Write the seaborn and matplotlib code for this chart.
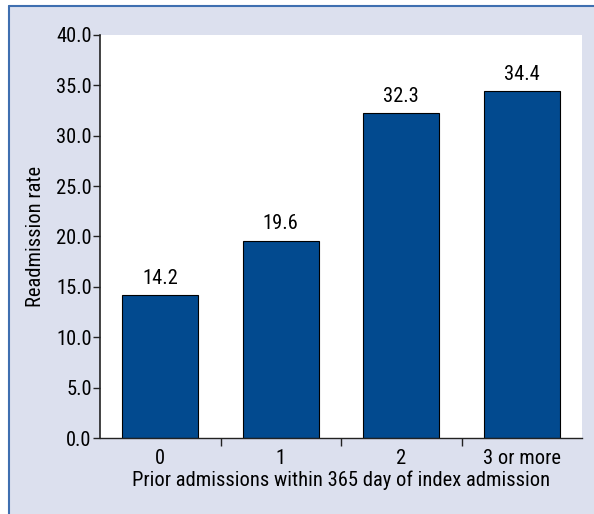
import matplotlib
matplotlib.use("Agg")
import matplotlib.pyplot as plt
from matplotlib.patches import Rectangle
from matplotlib.lines import Line2D
from matplotlib.ticker import FixedLocator, FormatStrFormatter
import seaborn as sns
import pandas as pd

categories = ["0", "1", "2", "3 or more"]
rates = [14.2, 19.6, 32.3, 34.4]
y_ticks = [0, 5, 10, 15, 20, 25, 30, 35, 40]

sns.set_style("ticks")
plt.rcParams["font.family"] = ["Roboto Condensed", "DejaVu Sans"]
plt.rcParams["text.color"] = "black"
plt.rcParams["axes.labelcolor"] = "black"
plt.rcParams["xtick.labelcolor"] = "black"
plt.rcParams["ytick.labelcolor"] = "black"

W, H = 594, 514
fig = plt.figure(figsize=(W / 100, H / 100), dpi=100)
fig.patch.set_facecolor("white")

# panel background with blue rule on top and left
bg = "#dce0ee"
rule = "#3f6fb0"
fig.add_artist(Rectangle((9 / W, 0), 1 - 9 / W, 1 - 6 / H, transform=fig.transFigure,
                         facecolor=bg, edgecolor="none", zorder=0))
fig.add_artist(Line2D([9 / W, 1], [1 - 6 / H, 1 - 6 / H], transform=fig.transFigure,
                      color=rule, lw=1.5, zorder=1))
fig.add_artist(Line2D([9 / W, 9 / W], [0, 1 - 6 / H], transform=fig.transFigure,
                      color=rule, lw=1.5, zorder=1))

ax = fig.add_axes([100 / W, 1 - 438 / H, (582 - 100) / W, (438 - 35) / H])
ax.set_facecolor("white")

df = pd.DataFrame({"group": categories, "rate": rates})
sns.barplot(data=df, x="group", y="rate", ax=ax, color="#024a8f",
            width=0.63, edgecolor="black", linewidth=0.8, saturation=1)

fs = 14.8
for i, v in enumerate(rates):
    ax.text(i, v + 0.7, f"{v:.1f}", ha="center", va="bottom", fontsize=fs, color="black")

ax.set_xlim(-0.5, 3.5)
ax.set_ylim(0, 40)
ax.set_yticks(y_ticks)
ax.yaxis.set_major_formatter(FormatStrFormatter("%.1f"))
ax.tick_params(axis="y", labelsize=fs, length=5, width=1, color="#222222", pad=1)

# category labels without marks; divider marks between categories
ax.tick_params(axis="x", which="major", length=0, labelsize=fs, pad=8)
ax.xaxis.set_minor_locator(FixedLocator([0.5, 1.5, 2.5]))
ax.tick_params(axis="x", which="minor", length=6, width=1, color="#222222", direction="out")

ax.set_xlabel("Prior admissions within 365 day of index admission", fontsize=fs, labelpad=2)
ax.set_ylabel("Readmission rate", fontsize=fs, labelpad=8)

for s in ["top", "right"]:
    ax.spines[s].set_visible(False)
ax.spines["left"].set_color("#222222")
ax.spines["bottom"].set_color("#222222")
ax.spines["left"].set_linewidth(1.2)
ax.spines["bottom"].set_linewidth(1.0)

fig.savefig("out.png", dpi=100, facecolor=fig.get_facecolor())
